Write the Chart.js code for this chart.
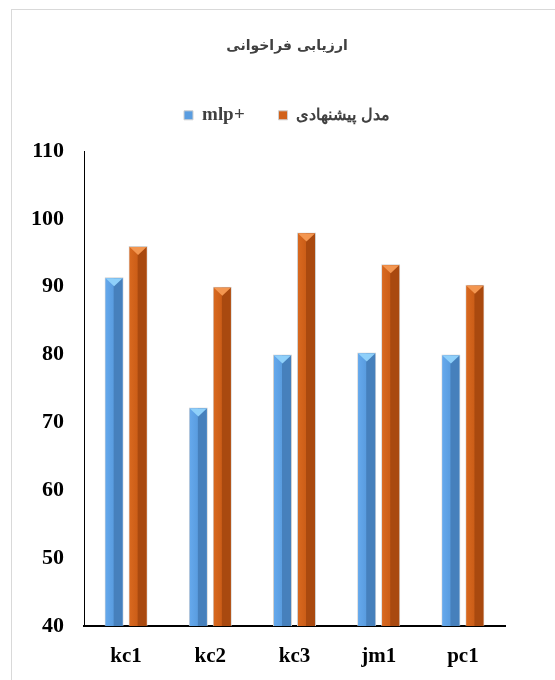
<!DOCTYPE html>
<html>
<head>
<meta charset="utf-8">
<script src="https://cdn.jsdelivr.net/npm/chart.js@4"></script>
<style>
  body { margin: 0; background: #fff; }
  #box { position: absolute; left: 11px; top: 9px; width: 550px; height: 700px; border: 1.5px solid #d9d9d9; }
  /* legend mixes a serif latin label with a persian one */
  @font-face { font-family: 'LegLat'; src: local('Liberation Serif Bold'), local('LiberationSerif-Bold');
    font-weight: bold; unicode-range: U+0000-024F; size-adjust: 112%; }
  @font-face { font-family: 'LegAr'; src: local('DejaVu Sans'), local('DejaVuSans');
    font-weight: 100; size-adjust: 96%; }
</style>
</head>
<body>
<div id="box"><canvas id="myChart"></canvas></div>
<script>
const categories = ['kc1', 'kc2', 'kc3', 'jm1', 'pc1'];
const mlpValues = [91.4, 72.2, 80, 80.3, 80];
const proposedValues = [96, 90, 98, 93.3, 90.3];
const seriesNames = ['mlp+', 'مدل پیشنهادی'];
const yTicks = [40, 50, 60, 70, 80, 90, 100, 110];

// shaded column + light triangle on top, like the 3D bars in Excel
const bevel = {
    id: 'bevel',
    afterDatasetsDraw(chart) {
        const c = chart.ctx;
        const shades = [['#66aaee', '#5a9de0', '#4680bc'], ['#da6a20', '#cc5e18', '#a9490f']];
        const tops = ['#8fd0fa', '#f39650'];
        const bottom = chart.chartArea.bottom;
        chart.data.datasets.forEach((ds, i) => {
            chart.getDatasetMeta(i).data.forEach(bar => {
                const w = bar.width, l = bar.x - w / 2;
                const g = c.createLinearGradient(l, 0, l + w, 0);
                g.addColorStop(0, shades[i][0]);
                g.addColorStop(0.45, shades[i][1]);
                g.addColorStop(0.5, shades[i][2]);
                g.addColorStop(1, shades[i][2]);
                c.save();
                c.fillStyle = g;
                c.fillRect(l + 1, bar.y + 1, w - 2, bottom - bar.y - 1);
                c.fillStyle = tops[i];
                c.beginPath();
                c.moveTo(l + 1, bar.y + 1);
                c.lineTo(l + w - 1, bar.y + 1);
                c.lineTo(bar.x, bar.y + 9);
                c.closePath();
                c.fill();
                c.restore();
            });
        });
    }
};

function makeChart() {
    var ctx = document.getElementById('myChart').getContext('2d');
    var myChart = new Chart(ctx, {
        type: 'bar',
        data: {
            labels: categories,
            datasets: [
                {
                    label: seriesNames[0],
                    data: mlpValues,
                    backgroundColor: '#5a9de0',
                    borderColor: '#d0d0d0',
                    borderWidth: 1
                },
                {
                    label: seriesNames[1],
                    data: proposedValues,
                    backgroundColor: '#d2621b',
                    borderColor: '#d0d0d0',
                    borderWidth: 1
                }
            ]
        },
        plugins: [bevel],
        options: {
            responsive: true,
            maintainAspectRatio: false,
            animation: false,
            datasets: { bar: { categoryPercentage: 0.57, barPercentage: 0.79 } },
            layout: { padding: { left: 0, right: 0, top: 0, bottom: 34 } },
            plugins: {
                title: {
                    display: true,
                    text: 'ارزیابی فراخوانی',
                    color: '#404040',
                    font: { family: 'DejaVu Sans', size: 14, weight: 'bold' },
                    padding: { top: 28, bottom: 18 }
                },
                // empty subtitle used as a spacer between legend and plot
                subtitle: {
                    display: true,
                    text: '',
                    weight: 500,
                    font: { size: 1 },
                    padding: { top: 0, bottom: 16 }
                },
                legend: {
                    labels: {
                        boxWidth: 9,
                        boxHeight: 9,
                        padding: 34,
                        color: '#404040',
                        font: { family: "LegLat, LegAr, 'DejaVu Sans'", size: 17, weight: 'bold' }
                    }
                },
                tooltip: { enabled: false }
            },
            scales: {
                x: {
                    grid: { display: false, drawTicks: false },
                    border: { display: true, color: '#000', width: 2 },
                    ticks: {
                        padding: 18,
                        color: '#000',
                        font: { family: 'Liberation Serif', size: 21, weight: 'bold' }
                    },
                    afterFit: s => { s.height = 50; }
                },
                y: {
                    min: yTicks[0],
                    max: yTicks[yTicks.length - 1],
                    afterBuildTicks: s => { s.ticks = yTicks.map(v => ({ value: v })); },
                    grid: { display: false, drawTicks: false },
                    border: { display: true, color: '#000', width: 1 },
                    ticks: {
                        padding: 20,
                        color: '#000',
                        font: { family: 'Liberation Serif', size: 22, weight: 'bold' }
                    },
                    afterFit: s => { s.width = 72; }
                },
                // empty right axis, only keeps room on the right side
                yRight: {
                    position: 'right',
                    grid: { display: false, drawTicks: false },
                    border: { display: false },
                    ticks: { display: false },
                    afterFit: s => { s.width = 57; }
                }
            }
        }
    });
}

Promise.all([
    document.fonts.load("bold 17px LegLat", "mlp+"),
    document.fonts.load("bold 17px LegAr", "مدل")
]).then(makeChart, makeChart);
</script>
</body>
</html>
